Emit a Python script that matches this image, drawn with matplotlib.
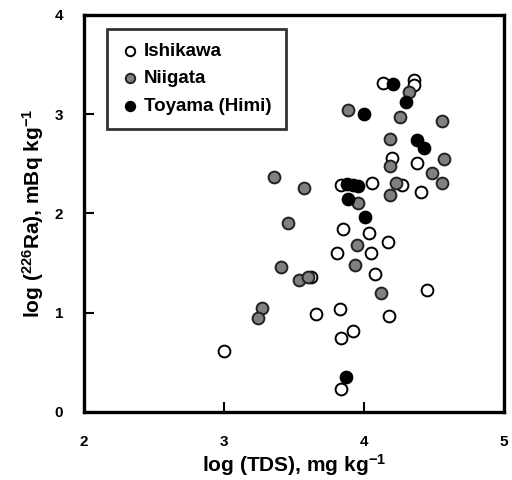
import matplotlib
matplotlib.use("Agg")
import matplotlib.pyplot as plt

plt.rcParams['font.family'] = ['Liberation Sans', 'DejaVu Sans']
plt.rcParams['mathtext.fontset'] = 'custom'
plt.rcParams['mathtext.rm'] = 'Liberation Sans:bold'
plt.rcParams['mathtext.default'] = 'rm'

ishikawa_x = [3.00, 3.84, 3.84, 3.92, 3.66, 3.83, 4.18, 4.45, 3.62, 4.08, 3.81, 4.05,
              4.04, 4.17, 3.85, 3.84, 4.06, 4.27, 4.41, 4.38, 4.14, 4.36, 4.36, 4.20]
ishikawa_y = [0.61, 0.23, 0.74, 0.81, 0.99, 1.04, 0.97, 1.23, 1.36, 1.39, 1.60, 1.60,
              1.80, 1.71, 1.84, 2.29, 2.31, 2.29, 2.22, 2.51, 3.31, 3.34, 3.29, 2.56]

niigata_x = [3.27, 3.24, 3.41, 3.54, 3.60, 4.12, 3.94, 3.95, 3.46, 3.96, 4.19, 4.23,
             3.57, 3.36, 4.19, 4.49, 4.32, 3.89, 4.26, 4.56, 4.19, 4.57, 4.56]
niigata_y = [1.05, 0.95, 1.46, 1.33, 1.36, 1.20, 1.48, 1.68, 1.90, 2.10, 2.18, 2.31,
             2.26, 2.37, 2.48, 2.41, 3.22, 3.04, 2.97, 2.93, 2.75, 2.55, 2.31]

toyama_x = [3.87, 4.01, 3.89, 3.88, 3.92, 3.96, 4.21, 4.30, 4.00, 4.38, 4.43]
toyama_y = [0.35, 1.96, 2.14, 2.30, 2.29, 2.28, 3.30, 3.12, 3.00, 2.74, 2.66]

fig = plt.figure(figsize=(5.12, 4.8), dpi=100)
ax = fig.add_axes([0.164, 0.142, 0.820, 0.827])

ms = 72
ax.scatter(ishikawa_x, ishikawa_y, s=ms, facecolor='white', edgecolor='black',
           linewidth=1.4, label='Ishikawa', zorder=3)
ax.scatter(niigata_x, niigata_y, s=ms, facecolor='#808080', edgecolor='#222222',
           linewidth=1.4, label='Niigata', zorder=3)
ax.scatter(toyama_x, toyama_y, s=ms, facecolor='black', edgecolor='black',
           linewidth=1.4, label='Toyama (Himi)', zorder=4)

ax.set_xlim(2, 5)
ax.set_ylim(0, 4)
ax.set_xticks([2, 3, 4, 5])
ax.set_yticks([0, 1, 2, 3, 4])
ax.tick_params(axis='x', direction='in', length=7, width=1.5, labelsize=11, pad=17)
ax.tick_params(axis='y', direction='in', length=7, width=1.5, labelsize=11, pad=15)
for lab in ax.get_xticklabels() + ax.get_yticklabels():
    lab.set_fontweight('bold')
for s in ax.spines.values():
    s.set_linewidth(2.4)

ax.set_xlabel('log (TDS), mg kg$^{-1}$', fontsize=15, fontweight='bold', labelpad=2)
ax.set_ylabel('log ($^{226}$Ra), mBq kg$^{-1}$', fontsize=15, fontweight='bold', labelpad=6)

leg = ax.legend(loc='upper left', bbox_to_anchor=(0.045, 0.975), frameon=True,
                fancybox=False, edgecolor='black', prop={'weight': 'bold', 'size': 13.5},
                handletextpad=0.25, borderpad=0.75, labelspacing=0.55, markerscale=0.8,
                handlelength=1.0, borderaxespad=0.2)
leg.get_frame().set_linewidth(2.0)

fig.savefig('out.png', dpi=100)
